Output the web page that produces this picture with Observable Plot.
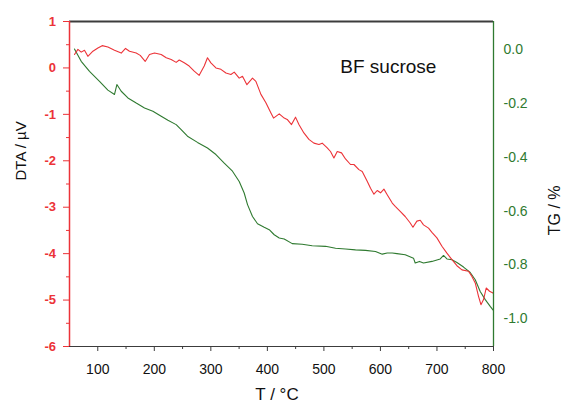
<!DOCTYPE html>
<html>
<head>
<meta charset="utf-8">
<script src="https://cdn.jsdelivr.net/npm/d3@7"></script>
<script src="https://cdn.jsdelivr.net/npm/@observablehq/plot@0.6"></script>
<style>
  html, body { margin: 0; padding: 0; background: #fff; }
  #chart svg { display: block; }
</style>
</head>
<body>
<div id="chart"></div>
<script>
// DTA curve (red, left axis, µV)
const T_DTA = [58.8,64.9,70.7,76.5,82.5,91.4,100.2,107.8,117.9,129.6,141.5,149.1,156.1,168,175.1,183.9,191.5,200.4,212.2,221.1,229.9,238.7,244.1,252.9,261.7,270.6,279.4,288.3,294.1,300.1,309,317.8,326.7,335.5,341.4,350.2,356,363.8,373.7,379.7,388.6,397.4,406.3,410.9,421,429.8,435.1,442.7,449.8,455.8,464.6,473.5,482.3,491.2,497,505.9,511.7,517.7,523.6,531.2,538.2,547.1,553.1,561.9,567.8,576.6,582.5,588.5,594.3,600.2,606.2,612,620.9,626.2,635,643.8,652.7,657.5,664.5,670.4,676.2,685.1,691.1,699.9,708.8,717.6,726.5,735.3,744.2,755.8,761.8,767.7,773.5,777.8,782.4,787.1,793,799];
const DTA = [0.29,0.40,0.34,0.38,0.25,0.36,0.43,0.48,0.45,0.38,0.32,0.42,0.36,0.32,0.27,0.14,0.29,0.32,0.29,0.22,0.18,0.12,0.17,0.11,0.04,-0.07,-0.16,0.04,0.22,0.11,0,-0.03,-0.11,-0.14,-0.09,-0.22,-0.18,-0.36,-0.22,-0.29,-0.57,-0.75,-0.97,-1.08,-0.99,-1.08,-1.11,-1.22,-1.06,-1.22,-1.40,-1.54,-1.62,-1.65,-1.62,-1.72,-1.80,-1.94,-1.80,-1.83,-1.96,-2.08,-2.08,-2.19,-2.23,-2.44,-2.59,-2.72,-2.64,-2.69,-2.61,-2.73,-2.91,-2.98,-3.09,-3.20,-3.34,-3.43,-3.30,-3.28,-3.38,-3.45,-3.54,-3.66,-3.84,-3.99,-4.13,-4.26,-4.35,-4.38,-4.49,-4.63,-4.92,-5.10,-4.99,-4.74,-4.81,-4.85];

// TG curve (green, right axis, %)
const T_TG = [58.8,70.7,85.4,103.1,117.9,129.6,133.8,141.5,153.3,168,182.7,197.5,212.2,224.1,238.7,247.1,258.7,276.4,294.1,309,323.7,338.3,350.2,359,364.9,373.7,382.6,394.4,403.3,412.1,421,429.8,444,461.6,479.3,502.9,520.6,538.2,555.9,573.6,591.3,603.2,612,620.9,629.2,643.8,658.5,661.5,669.1,676.2,691.1,705.8,711.6,717.6,726.5,735.3,747,758.8,767.7,776.5,785.4,794.2,799];
const TG = [0.002,-0.044,-0.081,-0.118,-0.151,-0.167,-0.130,-0.155,-0.180,-0.199,-0.217,-0.229,-0.248,-0.263,-0.279,-0.297,-0.322,-0.345,-0.366,-0.390,-0.422,-0.452,-0.490,-0.533,-0.576,-0.620,-0.647,-0.660,-0.669,-0.688,-0.700,-0.704,-0.721,-0.723,-0.729,-0.731,-0.738,-0.741,-0.744,-0.746,-0.750,-0.760,-0.756,-0.756,-0.758,-0.762,-0.775,-0.793,-0.787,-0.793,-0.787,-0.778,-0.765,-0.778,-0.781,-0.791,-0.808,-0.828,-0.855,-0.899,-0.929,-0.954,-0.967];

// Axes
const xDomain = [50, 800];
const xTicks = [100, 200, 300, 400, 500, 600, 700, 800];
const xMinorTicks = [150, 250, 350, 450, 550, 650, 750];
const dtaDomain = [-6, 1];
const dtaTicks = [1, 0, -1, -2, -3, -4, -5, -6];
const dtaMinorTicks = [0.5, -0.5, -1.5, -2.5, -3.5, -4.5, -5.5];
const tgDomain = [-1.103, 0.104];
const tgTicks = [0, -0.2, -0.4, -0.6, -0.8, -1.0];

// Labels
const xLabel = "T / °C";
const dtaLabel = "DTA / µV";
const tgLabel = "TG / %";
const note = "BF sucrose";
const noteAt = {T: 614, DTA: -0.11};

const RED = "#ec3338";
const GREEN = "#2f7a30";
const DARK = "#3c3c3c";

// map TG values onto the DTA (left) scale
const tg2y = d3.scaleLinear().domain(tgDomain).range(dtaDomain);

const dtaData = T_DTA.map((t, i) => ({t, v: DTA[i]}));
const tgData = T_TG.map((t, i) => ({t, v: TG[i]}));

const chart = Plot.plot({
  width: 562,
  height: 403,
  marginLeft: 69,
  marginRight: 69,
  marginTop: 21,
  marginBottom: 57,
  style: {fontFamily: "'Liberation Sans', Arial, sans-serif", background: "#fff"},
  x: {domain: xDomain, axis: null},
  y: {domain: dtaDomain, axis: null},
  marks: [
    // frame
    Plot.ruleY([dtaDomain[1]], {stroke: DARK, strokeWidth: 2}),
    Plot.ruleY([dtaDomain[0]], {stroke: DARK, strokeWidth: 1.2}),
    // curves
    Plot.line(tgData, {x: "t", y: d => tg2y(d.v), stroke: GREEN, strokeWidth: 1.1}),
    Plot.line(dtaData, {x: "t", y: "v", stroke: RED, strokeWidth: 1.1}),
    Plot.ruleX([xDomain[0]], {stroke: RED, strokeWidth: 1.5}),
    Plot.ruleX([xDomain[1]], {stroke: GREEN, strokeWidth: 1.3}),
    // bottom axis
    Plot.axisX(xTicks, {anchor: "bottom", tickSize: 5, tickPadding: 13, stroke: DARK, fill: "#111", fontSize: 14, tickFormat: d => String(d), label: null}),
    Plot.axisX(xMinorTicks, {anchor: "bottom", tickSize: 3, stroke: DARK, fill: "none", label: null}),
    // left axis
    Plot.axisY(dtaTicks, {anchor: "left", tickSize: 6, tickPadding: 7.5, stroke: RED, fill: RED, fontSize: 13, fontWeight: "bold", tickFormat: d => String(d), label: null}),
    Plot.axisY(dtaMinorTicks, {anchor: "left", tickSize: 3, stroke: RED, fill: "none", label: null}),
    // right axis (TG)
    Plot.axisY(tgTicks.map(tg2y), {anchor: "right", tickSize: 0, tickPadding: 10, fill: GREEN, fontSize: 14, label: null,
      tickFormat: d => { const v = Math.round(tg2y.invert(d) * 10) / 10; return (v === 0 ? 0 : v).toFixed(1); }}),
    // axis titles
    Plot.text([xLabel], {frameAnchor: "bottom", dx: -4.5, dy: 53, lineAnchor: "bottom", fontSize: 17, fill: "#111"}),
    Plot.text([dtaLabel], {frameAnchor: "left", rotate: -90, dx: -43.5, dy: -3.5, lineAnchor: "bottom", fontSize: 15, fill: "#111"}),
    Plot.text([tgLabel], {frameAnchor: "right", rotate: -90, dx: 66, dy: 1.5, lineAnchor: "bottom", fontSize: 16, fill: "#111"}),
    // annotation
    Plot.text([note], {x: () => noteAt.T, y: () => noteAt.DTA, lineAnchor: "bottom", fontSize: 19, fill: "#111"})
  ]
});

document.getElementById("chart").appendChild(chart);
</script>
</body>
</html>
